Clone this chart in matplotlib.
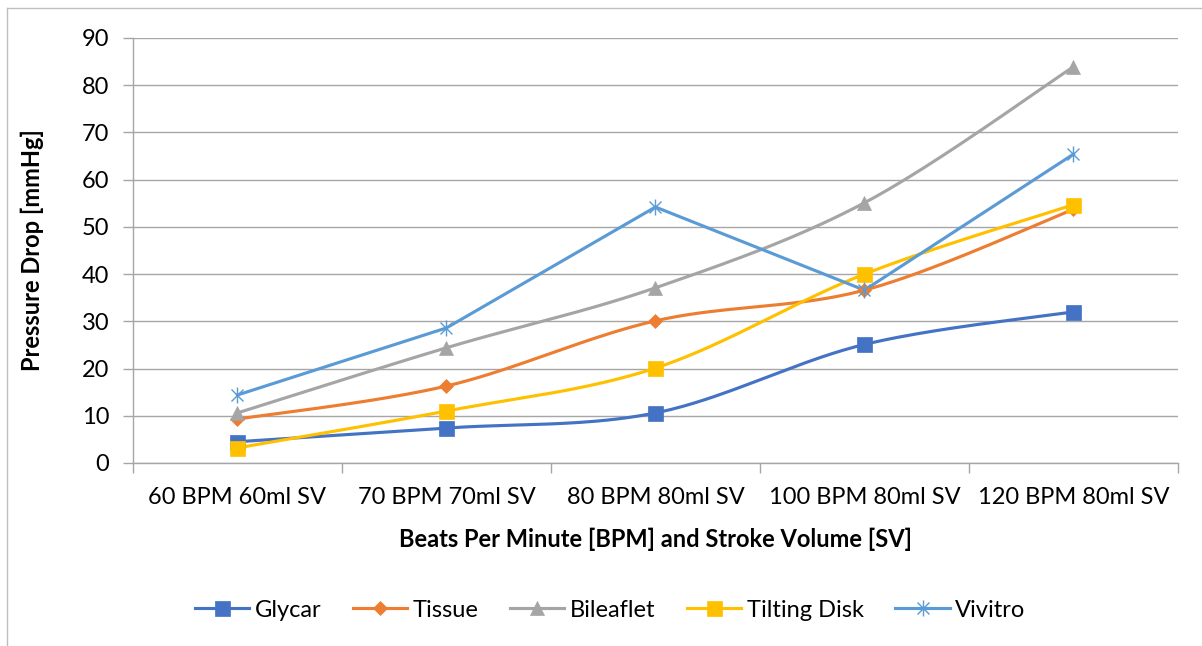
import numpy as np
import matplotlib
matplotlib.use("Agg")
import matplotlib.pyplot as plt
from matplotlib.path import Path
from matplotlib.lines import Line2D

plt.rcParams['font.family'] = ['Lato', 'DejaVu Sans']

categories = ["60 BPM 60ml SV", "70 BPM 70ml SV", "80 BPM 80ml SV",
              "100 BPM 80ml SV", "120 BPM 80ml SV"]
glycar = [4.5, 7.4, 10.6, 25.1, 32.0]
tissue = [9.3, 16.3, 30.1, 36.6, 53.7]
bileaflet = [10.6, 24.4, 37.1, 55.1, 83.9]
tilting_disk = [3.2, 11.0, 20.1, 40.0, 54.7]
vivitro = [14.4, 28.6, 54.2, 36.6, 65.4]
y_ticks = [0, 10, 20, 30, 40, 50, 60, 70, 80, 90]

# Excel-style "star" marker: an X with a vertical stroke
star_path = Path(
    [(0, -1), (0, 1), (-0.75, -0.75), (0.75, 0.75), (-0.75, 0.75), (0.75, -0.75)],
    [Path.MOVETO, Path.LINETO, Path.MOVETO, Path.LINETO, Path.MOVETO, Path.LINETO],
)


def smooth(xs, ys, n=40):
    """Cubic Bezier smoothing (Catmull-Rom style) through every point."""
    xs = np.asarray(xs, float)
    ys = np.asarray(ys, float)
    px = np.concatenate([[xs[0]], xs, [xs[-1]]])
    py = np.concatenate([[ys[0]], ys, [ys[-1]]])
    outx, outy = [], []
    t = np.linspace(0, 1, n)
    for i in range(1, len(px) - 2):
        p0 = np.array([px[i], py[i]])
        p3 = np.array([px[i + 1], py[i + 1]])
        c1 = p0 + (np.array([px[i + 1], py[i + 1]]) - np.array([px[i - 1], py[i - 1]])) / 6
        c2 = p3 - (np.array([px[i + 2], py[i + 2]]) - np.array([px[i], py[i]])) / 6
        b = ((1 - t) ** 3)[:, None] * p0 + (3 * (1 - t) ** 2 * t)[:, None] * c1 \
            + (3 * (1 - t) * t ** 2)[:, None] * c2 + (t ** 3)[:, None] * p3
        outx.extend(b[:, 0])
        outy.extend(b[:, 1])
    return np.array(outx), np.array(outy)


series = [
    ("Glycar", glycar, "#4472C4", "s", 10.8, True),
    ("Tissue", tissue, "#ED7D31", "D", 7.2, True),
    ("Bileaflet", bileaflet, "#A5A5A5", "^", 10.5, True),
    ("Tilting Disk", tilting_disk, "#FFC000", "s", 10.8, True),
    ("Vivitro", vivitro, "#5B9BD5", star_path, 11.5, False),
]

FS = 17

fig = plt.figure(figsize=(12.02, 6.46), dpi=100)
ax = fig.add_axes([0.1106, 0.2833, 0.8694, 0.6579])

x = np.arange(len(categories))
lw = 2.25
handles = []
for name, vals, color, marker, ms, is_smooth in series:
    if is_smooth:
        sx, sy = smooth(x, vals)
        ax.plot(sx, sy, color=color, lw=lw, solid_capstyle='round', zorder=3)
    else:
        ax.plot(x, vals, color=color, lw=lw, solid_joinstyle='miter', zorder=3)
    if marker is star_path:
        ax.plot(x, vals, ls='none', marker=marker, ms=ms, mec=color, mew=1.0,
                mfc='none', zorder=4)
        h = Line2D([], [], color=color, lw=lw, marker=marker, ms=ms, mec=color,
                   mew=1.0, mfc='none')
    else:
        ax.plot(x, vals, ls='none', marker=marker, ms=ms, mfc=color, mec=color,
                mew=0.5, zorder=4)
        h = Line2D([], [], color=color, lw=lw, marker=marker, ms=ms, mfc=color,
                   mec=color, mew=0.5)
    handles.append((h, name))

ax.set_xlim(-0.5, len(categories) - 0.5)
ax.set_ylim(0, 90)
ax.set_yticks(y_ticks)
ax.set_xticks(x)
ax.set_xticklabels(categories)
ax.set_xticks(np.arange(-0.5, len(categories)), minor=True)

grid_c = '#A6A6A6'
ax.yaxis.grid(True, color=grid_c, lw=1.0)
ax.set_axisbelow(True)
for side in ('top', 'right'):
    ax.spines[side].set_visible(False)
for side in ('left', 'bottom'):
    ax.spines[side].set_color(grid_c)
    ax.spines[side].set_linewidth(1.0)

ax.tick_params(axis='y', which='major', length=7, width=1.0, color=grid_c,
               labelsize=FS, pad=10)
ax.tick_params(axis='x', which='major', length=0, labelsize=FS, pad=17)
ax.tick_params(axis='x', which='minor', length=7, width=1.0, color=grid_c)

ax.set_xlabel("Beats Per Minute [BPM] and Stroke Volume [SV]", fontsize=FS,
              fontweight='bold', va='center')
ax.xaxis.set_label_coords(0.5, -0.179)
ax.set_ylabel("Pressure Drop [mmHg]", fontsize=FS, fontweight='bold', va='center')
ax.yaxis.set_label_coords(-0.0967, 0.5)

ax.legend([h for h, _ in handles], [n for _, n in handles], loc='center',
          bbox_to_anchor=(0.5075, 0.0557), bbox_transform=fig.transFigure, ncol=5,
          frameon=False, fontsize=FS, handlelength=2.3, handletextpad=0.22,
          columnspacing=1.35, numpoints=1)

# chart area frame (top and left edges)
fig.add_artist(Line2D([7 / 1202, 1], [1 - 8 / 646, 1 - 8 / 646],
                      transform=fig.transFigure, color='#BFBFBF', lw=1.0))
fig.add_artist(Line2D([7 / 1202, 7 / 1202], [0, 1 - 8 / 646],
                      transform=fig.transFigure, color='#BFBFBF', lw=1.0))

fig.savefig("out.png", dpi=100)
